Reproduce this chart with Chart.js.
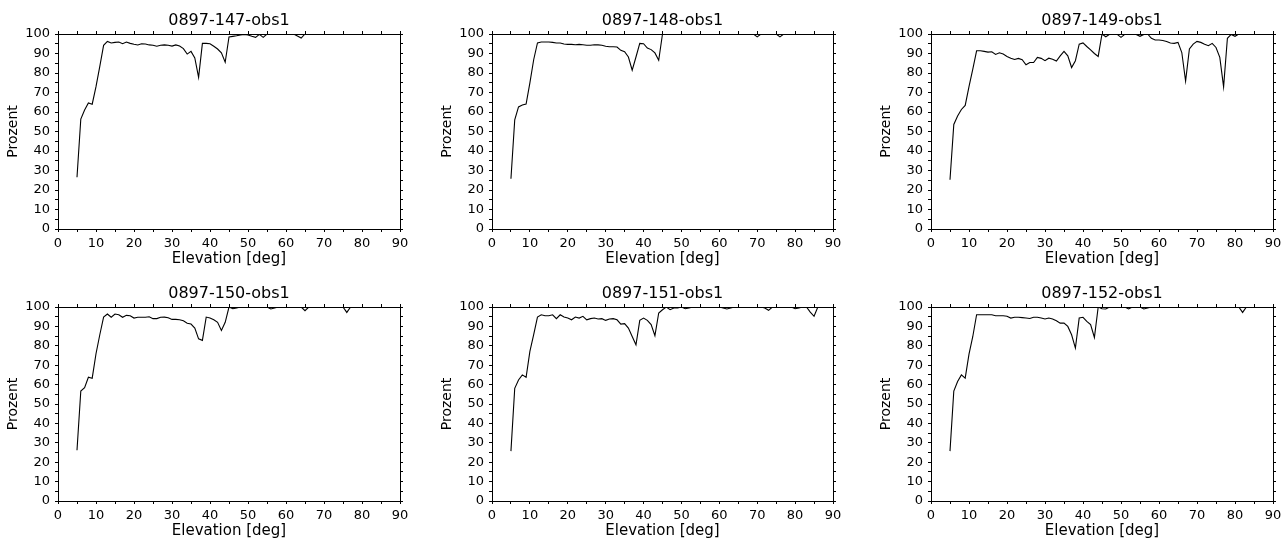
<!DOCTYPE html>
<html>
<head>
<meta charset="utf-8">
<script src="https://cdn.jsdelivr.net/npm/chart.js"></script>
<style>
  html, body { margin: 0; padding: 0; background: #fff; }
  body { width: 1288px; height: 538px; position: relative; overflow: hidden; }
  canvas { position: absolute; }
</style>
</head>
<body>
<script>
// elevation in degrees, 1 deg steps
const elevation = [5, 6, 7, 8, 9, 10, 11, 12, 13, 14, 15, 16, 17, 18, 19, 20, 21, 22, 23, 24,
  25, 26, 27, 28, 29, 30, 31, 32, 33, 34, 35, 36, 37, 38, 39, 40, 41, 42, 43, 44,
  45, 46, 47, 48, 49, 50, 51, 52, 53, 54, 55, 56, 57, 58, 59, 60, 61, 62, 63, 64,
  65, 66, 67, 68, 69, 70, 71, 72, 73, 74, 75, 76, 77, 78, 79, 80, 81, 82, 83, 84,
  85, 86, 87, 88, 89, 90];

const titles = ['0897-147-obs1', '0897-148-obs1', '0897-149-obs1',
                '0897-150-obs1', '0897-151-obs1', '0897-152-obs1'];

const obs147 = [26.5, 56.4, 61.0, 64.6, 64.0, 73.0, 83.4, 94.2, 96.2, 95.4, 95.7, 95.9, 95.0, 95.9, 95.2, 94.7, 94.4, 95.0, 94.9, 94.4,
  94.2, 93.7, 94.2, 94.4, 94.2, 93.8, 94.4, 93.8, 92.5, 89.7, 91.1, 87.7, 77.8, 95.2, 95.2, 95.0, 93.7, 92.3, 90.3, 85.5,
  98.5, 98.8, 99.1, 99.5, 99.8, 99.5, 98.8, 98.3, 99.8, 98.3, 100, 100, 100, 100, 100, 100, 100, 100, 99.0, 97.9,
  100, 100, 100, 100, 100, 100, 100, 100, 100, 100, 100, 100, 100, 100, 100, 100, 100, 100, 100, 100,
  100, 100, 100, 100, 100, 100];

const obs148 = [25.8, 56.0, 62.6, 63.6, 64.1, 74.9, 86.8, 95.4, 95.9, 95.9, 95.9, 95.7, 95.4, 95.4, 94.9, 94.7, 94.7, 94.5, 94.7, 94.5,
  94.2, 94.2, 94.5, 94.4, 94.2, 93.7, 93.5, 93.5, 93.3, 91.6, 90.9, 88.2, 81.4, 88.2, 95.2, 95.0, 92.8, 92.0, 90.3, 86.5,
  100, 100, 100, 100, 100, 100, 100, 100, 100, 100, 100, 100, 100, 100, 100, 100, 100, 100, 100, 100,
  100, 100, 100, 100, 100, 98.5, 100, 100, 100, 100, 100, 98.5, 100, 100, 100, 100, 100, 100, 100, 100,
  100, 100, 100, 100, 100, 100];

const obs149 = [25.3, 53.6, 57.9, 61.3, 63.4, 73.0, 82.0, 91.4, 91.4, 91.1, 90.7, 90.9, 89.5, 90.4, 89.7, 88.5, 87.6, 86.9, 87.5, 86.8,
  84.2, 85.4, 85.4, 88.0, 87.5, 86.3, 87.6, 87.1, 86.1, 88.8, 91.1, 88.8, 82.8, 86.3, 94.8, 95.4, 93.6, 91.9, 90.0, 88.5,
  100, 98.6, 99.8, 99.8, 99.8, 98.3, 99.8, 99.8, 100, 99.8, 98.8, 99.8, 100, 97.8, 96.9, 96.9, 96.7, 96.2, 95.4, 95.2,
  95.7, 90.5, 75.9, 92.3, 94.8, 96.2, 95.7, 94.8, 94.0, 95.2, 93.1, 88.0, 72.9, 97.8, 99.8, 98.8, 100, 100, 100, 100,
  100, 100, 100, 100, 100, 100];

const obs150 = [26.2, 56.7, 58.4, 63.8, 63.3, 75.9, 85.7, 94.8, 96.4, 94.7, 96.4, 96.0, 94.7, 95.7, 95.5, 94.3, 94.7, 94.7, 94.7, 95.0,
  94.0, 94.0, 94.7, 94.8, 94.5, 93.6, 93.6, 93.4, 92.9, 91.6, 91.2, 89.1, 83.6, 82.8, 94.8, 94.3, 93.4, 92.1, 87.9, 92.1,
  100, 99.1, 99.5, 100, 100, 100, 100, 100, 100, 100, 100, 99.0, 99.5, 100, 100, 100, 100, 100, 100, 100,
  98.1, 100, 100, 100, 100, 100, 100, 100, 100, 100, 100, 97.2, 100, 100, 100, 100, 100, 100, 100, 100,
  100, 100, 100, 100, 100, 100];

const obs151 = [25.7, 58.1, 62.4, 65.0, 63.8, 77.1, 85.7, 94.8, 96.0, 95.5, 95.5, 96.0, 94.0, 96.0, 94.8, 94.3, 93.4, 94.8, 94.3, 95.2,
  93.4, 94.0, 94.3, 93.8, 94.0, 93.1, 93.8, 94.0, 93.4, 91.2, 91.4, 89.1, 84.8, 80.5, 93.1, 94.3, 93.1, 90.9, 85.2, 96.9,
  98.6, 100, 98.6, 99.5, 99.5, 100, 99.1, 99.5, 100, 100, 100, 100, 100, 100, 100, 100, 99.5, 99.0, 99.5, 100,
  100, 100, 100, 100, 100, 100, 100, 99.5, 98.3, 100, 100, 100, 100, 100, 100, 99.1, 99.5, 100, 100, 97.4,
  95.2, 100, 100, 100, 100, 100];

const obs152 = [25.7, 56.7, 61.6, 65.0, 63.3, 75.7, 84.8, 96.0, 96.0, 96.0, 96.0, 96.0, 95.5, 95.5, 95.5, 95.2, 94.3, 94.7, 94.7, 94.5,
  94.3, 94.1, 94.7, 94.7, 94.3, 93.8, 94.3, 93.8, 92.9, 91.7, 91.7, 90.0, 85.7, 78.8, 94.3, 94.7, 92.6, 90.9, 84.3, 100,
  99.1, 99.0, 100, 100, 100, 100, 100, 99.0, 100, 100, 100, 99.0, 99.5, 100, 100, 100, 100, 100, 100, 100,
  100, 100, 100, 100, 100, 100, 100, 100, 100, 100, 100, 100, 100, 100, 100, 100, 100, 97.2, 100, 100,
  100, 100, 100, 100, 100, 100];

const series = [obs147, obs148, obs149, obs150, obs151, obs152];

const xTicks = { min: 0, max: 90, step: 5 };
const yTicks = { min: 0, max: 100, step: 5 };

// plot boxes [left, top, right, bottom] in page pixels
const boxes = [
  [58, 34, 400, 229], [492, 34, 833, 229], [931, 34, 1273, 229],
  [58, 307, 400, 501], [492, 307, 833, 501], [931, 307, 1273, 501]
];

const FONT = "'DejaVu Sans', sans-serif";
const M = { left: 58, right: 15, top: 34, bottom: 37 };

function axisBase(extra) {
  return Object.assign({
    type: 'linear',
    border: { display: true, color: '#000', width: 1 },
    grid: { drawOnChartArea: false, drawTicks: true, tickLength: 3, color: '#000' }
  }, extra);
}

series.forEach((vals, i) => {
  const [l, t, r, b] = boxes[i];
  const cv = document.createElement('canvas');
  const w = (r - l) + M.left + M.right;
  const h = (b - t) + M.top + M.bottom;
  cv.width = w; cv.height = h;
  cv.style.left = (l - M.left) + 'px';
  cv.style.top = (t - M.top) + 'px';
  cv.style.width = w + 'px'; cv.style.height = h + 'px';
  document.body.appendChild(cv);

  const labelEvery10 = v => (v % 10 === 0 ? v : '');

  new Chart(cv.getContext('2d'), {
    type: 'line',
    data: {
      datasets: [{
        data: elevation.map((e, k) => ({ x: e, y: vals[k] })),
        borderColor: '#000',
        borderWidth: 1.1,
        pointRadius: 0,
        tension: 0,
        fill: false
      }]
    },
    options: {
      responsive: false,
      animation: false,
      events: [],
      layout: { padding: 0 },
      plugins: { legend: { display: false }, tooltip: { enabled: false } },
      scales: {
        x: axisBase({
          position: 'bottom', min: xTicks.min, max: xTicks.max,
          ticks: { stepSize: xTicks.step, autoSkip: false, maxRotation: 0, padding: 4,
                   color: '#000', font: { family: FONT, size: 13 }, callback: labelEvery10 },
          title: { display: true, text: 'Elevation [deg]', color: '#000',
                   font: { family: FONT, size: 15 }, padding: { top: 0, bottom: -2 } },
          afterFit: s => { s.height = M.bottom; }
        }),
        x2: axisBase({
          position: 'top', min: xTicks.min, max: xTicks.max,
          ticks: { stepSize: xTicks.step, autoSkip: false, display: false },
          title: { display: true, text: titles[i], color: '#000',
                   font: { family: FONT, size: 16 }, padding: { top: 11.5, bottom: 0 } },
          afterFit: s => { s.height = M.top; }
        }),
        y: axisBase({
          position: 'left', min: yTicks.min, max: yTicks.max,
          ticks: { stepSize: yTicks.step, autoSkip: false, padding: 5,
                   color: '#000', font: { family: FONT, size: 13 }, callback: labelEvery10 },
          title: { display: true, text: 'Prozent', color: '#000',
                   font: { family: FONT, size: 14 }, padding: { top: 4.5, bottom: 0 } },
          afterFit: s => { s.width = M.left; }
        }),
        y2: axisBase({
          position: 'right', min: yTicks.min, max: yTicks.max,
          ticks: { stepSize: yTicks.step, autoSkip: false, display: false },
          afterFit: s => { s.width = M.right; }
        })
      }
    }
  });
});
</script>
</body>
</html>
